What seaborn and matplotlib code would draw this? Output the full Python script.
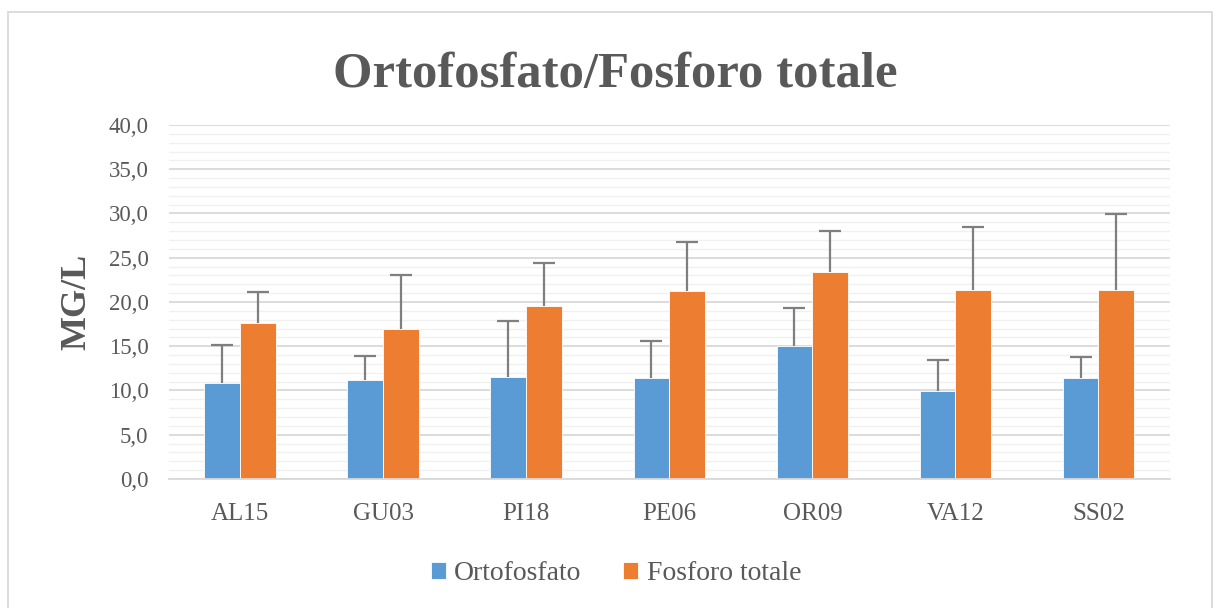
import matplotlib
matplotlib.use("Agg")
import matplotlib.pyplot as plt
from matplotlib.patches import Rectangle
from matplotlib.ticker import MultipleLocator, FixedLocator
import numpy as np
import pandas as pd
import seaborn as sns

# Stations and measured concentrations (mg/L)
stations = ["AL15", "GU03", "PI18", "PE06", "OR09", "VA12", "SS02"]
series_names = ["Ortofosfato", "Fosforo totale"]
orto_mean = [10.9, 11.2, 11.5, 11.4, 15.0, 9.9, 11.4]
orto_err = [4.2, 2.7, 6.4, 4.2, 4.3, 3.6, 2.4]
ptot_mean = [17.6, 17.0, 19.6, 21.2, 23.4, 21.3, 21.3]
ptot_err = [3.5, 6.0, 4.8, 5.6, 4.6, 7.2, 8.6]
y_ticks = [0, 5, 10, 15, 20, 25, 30, 35, 40]
y_tick_labels = ["0,0", "5,0", "10,0", "15,0", "20,0", "25,0", "30,0", "35,0", "40,0"]

colors = ["#5B9BD5", "#ED7D31"]
text_gray = "#595959"

df = pd.DataFrame({
    "Stazione": stations * 2,
    "Serie": [series_names[0]] * len(stations) + [series_names[1]] * len(stations),
    "Valore": orto_mean + ptot_mean,
})

sns.set_theme(style="white")
plt.rcParams["font.family"] = ["Liberation Serif", "DejaVu Serif"]

fig = plt.figure(figsize=(12.16, 6.08), dpi=100)
ax = fig.add_axes([0.1386, 0.2122, 0.8236, 0.5822])

sns.barplot(data=df, x="Stazione", y="Valore", hue="Serie", order=stations,
            hue_order=series_names, palette=colors, errorbar=None, width=0.5,
            edgecolor="white", linewidth=0.6, saturation=1, ax=ax, legend=True)

# upward-only error bars placed on the bars seaborn drew
for container, means, errs in zip(ax.containers, [orto_mean, ptot_mean], [orto_err, ptot_err]):
    xs = [p.get_x() + p.get_width() / 2 for p in container.patches]
    _, caps, _ = ax.errorbar(xs, means, yerr=[np.zeros(len(errs)), errs], fmt="none",
                             ecolor="#7F7F7F", elinewidth=1.6, capsize=8, capthick=1.6,
                             zorder=4)
    caps[0].set_visible(False)

ax.set_ylim(0, 40)
ax.set_xlim(-0.5, len(stations) - 0.5)
ax.yaxis.set_major_locator(FixedLocator(y_ticks))
ax.set_yticklabels(y_tick_labels)
ax.yaxis.set_minor_locator(MultipleLocator(1))
ax.grid(which="major", axis="y", color="#D9D9D9", linewidth=1.3, zorder=0)
ax.grid(which="minor", axis="y", color="#F0F0F0", linewidth=1.0, zorder=0)
ax.set_axisbelow(True)
for s in ["top", "right", "left"]:
    ax.spines[s].set_visible(False)
ax.spines["bottom"].set_color("#D9D9D9")
ax.spines["bottom"].set_linewidth(1.3)
ax.tick_params(axis="both", which="both", length=0)
ax.tick_params(axis="y", labelsize=16.5, labelcolor=text_gray, pad=14.5)
ax.tick_params(axis="x", labelsize=18, labelcolor=text_gray, pad=17)

ax.set_xlabel("")
ax.set_ylabel("MG/L", fontsize=26, fontweight="bold", color=text_gray, va="center")
ax.yaxis.set_label_coords(-0.0914, 0.5)

fig.text(0.506, 1 - 87 / 608, "Ortofosfato/Fosforo totale", ha="center", va="baseline",
         fontsize=36.5, fontweight="bold", color=text_gray)

handles, labels = ax.get_legend_handles_labels()
ax.get_legend().remove()
leg = fig.legend(handles, labels, loc="center", bbox_to_anchor=(0.5066, 0.056), ncol=2,
                 frameon=False, fontsize=20, handlelength=0.54, handleheight=0.54,
                 handletextpad=0.3, columnspacing=1.5)
for t in leg.get_texts():
    t.set_color(text_gray)

# light outer frame around the chart
fig.patches.append(Rectangle((8 / 1216, -0.01), 1 - 8 / 1216 - 0.003, 1 - 12 / 608 + 0.01,
                             transform=fig.transFigure, fill=False,
                             edgecolor="#D9D9D9", linewidth=1.3))

fig.savefig("out.png", dpi=100, facecolor="white")
